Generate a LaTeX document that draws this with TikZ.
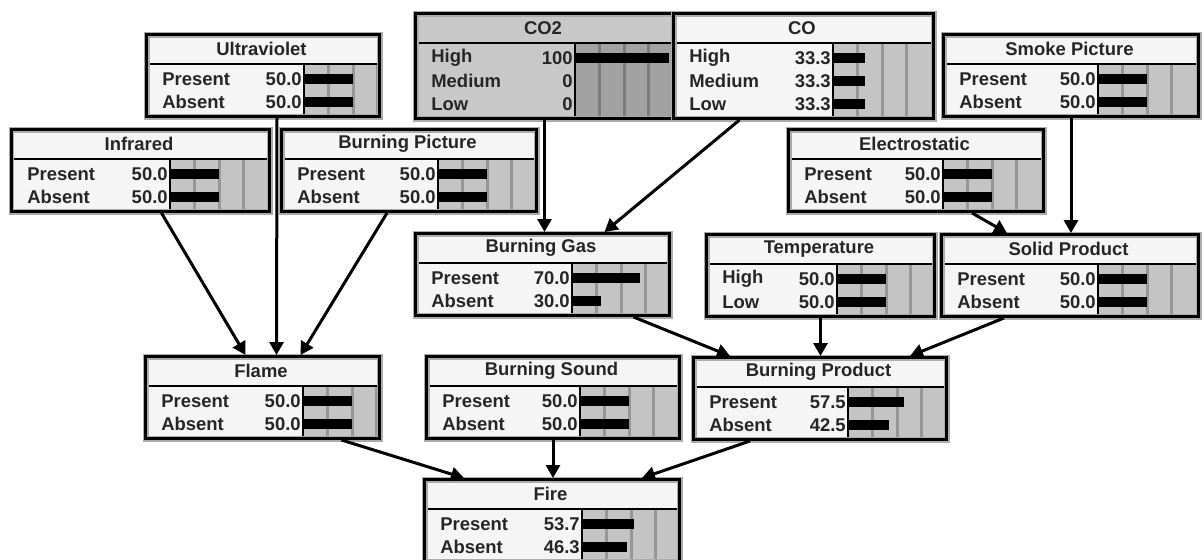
\documentclass[tikz,border=0pt]{standalone}
\usepackage{fontspec}
\setmainfont{Liberation Sans}
\usepackage{tikz}
\usetikzlibrary{arrows.meta,calc}
\definecolor{paneGray}{HTML}{F5F5F5}
\definecolor{barGray}{HTML}{C4C4C4}
\definecolor{gridGray}{HTML}{979797}
\definecolor{haloGray}{HTML}{ABABAB}
\definecolor{evidGray}{HTML}{C8C8C8}
\definecolor{evidBar}{HTML}{A2A2A2}
\definecolor{evidGrid}{HTML}{7C7C7C}
\newcommand{\px}{0.02cm}

% one belief node: [style] name, top left, width, value column, title, state/value list
\newcommand{\netnode}[7][]{%
  \foreach \s/\v [count=\i] in {#7} {\xdef\nrows{\i}}%
  \pgfmathsetmacro\bot{36+23*\nrows}%
  \begin{scope}[shift={(#3)}, #1]
    \fill[bodyfill] (0,0) rectangle (#4,\bot);
    \fill[barfill] (#5,31) rectangle (#4,\bot);
    \foreach \k in {1,2,3}
      \draw[gridline] ({#5+24.5*\k},31) -- ({#5+24.5*\k},\bot);
    \node[titletext] (#2-t) at (#4/2,16) {#6};
    \foreach \s/\v [count=\i] in {#7} {
      \node[statetext, anchor=west] at (17,{23+23*\i}) {\s};
      \node[statetext, anchor=east] at (#5-2,{23+23*\i}) {\v};
      \fill (#5,{18+23*\i}) rectangle ({#5+min(\v*0.97,#4-#5-3)},{28+23*\i});
    }
    \draw[line width=0.05cm] (0,31) -- (#4,31) (#5,31) -- (#5,\bot);
    \node[netframe, minimum width=#4*\px, minimum height=\bot*\px,
          anchor=north west] (#2) at (0,0) {};
  \end{scope}}

\begin{document}
\begin{tikzpicture}[x=\px, y=-\px,
    bodyfill/.style={fill=paneGray},
    barfill/.style={fill=barGray},
    gridline/.style={draw=gridGray, line width=0.06cm},
    evidence/.style={bodyfill/.style={fill=evidGray},
                     barfill/.style={fill=evidBar},
                     gridline/.style={draw=evidGrid, line width=0.06cm}},
    netframe/.style={draw, inner sep=0pt, line width=0.06cm,
                     preaction={draw=haloGray, line width=0.12cm}},
    titletext/.style={font=\bfseries\fontsize{10.5}{12}\selectfont, text=black!85},
    statetext/.style={font=\bfseries\fontsize{10.5}{12}\selectfont, text=black!85,
                      inner sep=0pt},
    arr/.style={-{Triangle[length=0.26cm, width=0.28cm]}, line width=0.06cm},
  ]
  \useasboundingbox (0,0) rectangle (1203,559);

  \netnode{uv}{145,33}{233}{159}{Ultraviolet}{Present/50.0, Absent/50.0}
  \netnode[evidence]{co2}{414,12}{258}{161}{CO2}{High/100, Medium/0, Low/0}
  \netnode{co}{672,12}{260}{161}{CO}{High/33.3, Medium/33.3, Low/33.3}
  \netnode{smoke}{942,33}{255}{156}{Smoke Picture}{Present/50.0, Absent/50.0}
  \netnode{ir}{10,128}{258}{160}{Infrared}{Present/50.0, Absent/50.0}
  \netnode{bpic}{280,128}{255}{158}{Burning Picture}{Present/50.0, Absent/50.0}
  \netnode{elec}{787,128}{255}{156}{Electrostatic}{Present/50.0, Absent/50.0}
  \netnode{bgas}{414,232}{254}{158}{Burning Gas}{Present/70.0, Absent/30.0}
  \netnode{temp}{705,233}{228}{132}{Temperature}{High/50.0, Low/50.0}
  \netnode{solid}{940,233}{257}{158}{Solid Product}{Present/50.0, Absent/50.0}
  \netnode{flame}{144,355}{234}{159}{Flame}{Present/50.0, Absent/50.0}
  \netnode{bsound}{425,355}{253}{155}{Burning Sound}{Present/50.0, Absent/50.0}
  \netnode{bprod}{692,356}{253}{156}{Burning Product}{Present/57.5, Absent/42.5}
  \netnode{fire}{423,478}{255}{159}{Fire}{Present/53.7, Absent/46.3}

  % links
  \draw[arr] ($(uv.south)+(14,0)$) -- ($(flame.north)+(14,0)$);
  \draw[arr] ($(ir.south)+(21,0)$) -- ($(flame.north)+(-17,0)$);
  \draw[arr] ($(bpic.south)+(-22,0)$) -- ($(flame.north)+(38,0)$);
  \draw[arr] (co2.south) -- (co2.south |- bgas.north);
  \draw[arr] ($(co.south)+(-64,0)$) -- ($(bgas.north)+(62,0)$);
  \draw[arr] (smoke.south) -- (smoke.south |- solid.north);
  \draw[arr] ($(elec.south)+(56,0)$) -- ($(solid.north)+(-63,0)$);
  \draw[arr] ($(bgas.south)+(91,0)$) -- ($(bprod.north)+(-90,0)$);
  \draw[arr] (temp.south) -- (temp.south |- bprod.north);
  \draw[arr] ($(solid.south)+(-66,0)$) -- ($(bprod.north)+(90,0)$);
  \draw[arr] ($(flame.south)+(79,0)$) -- ($(fire.north)+(-88,0)$);
  \draw[arr] (bsound.south) -- (bsound.south |- fire.north);
  \draw[arr] ($(bprod.south)+(-70,0)$) -- ($(fire.north)+(90,0)$);
\end{tikzpicture}
\end{document}
